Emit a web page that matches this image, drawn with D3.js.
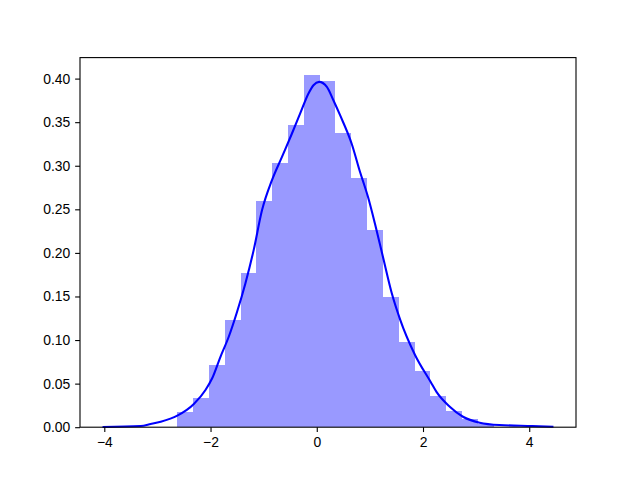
<!DOCTYPE html>
<html>
<head>
<meta charset="utf-8">
<script src="https://cdn.jsdelivr.net/npm/d3@7"></script>
<style>
  body { margin: 0; background: #fff; }
  svg { font-family: "DejaVu Sans", sans-serif; }
  .tick text { font-size: 13.9px; fill: #000; }
  .tick line { stroke: #000; stroke-width: 1.1px; }
  .domain { display: none; }
</style>
</head>
<body>
<svg width="640" height="480"></svg>
<script>
// histogram (density), equal-width bins
const histStart = -2.6262
const histWidth = 0.2978
const histDensity = [0.0171, 0.0331, 0.0713, 0.1229, 0.1765, 0.2594, 0.3026, 0.3466, 0.4039,
  0.397, 0.3377, 0.2861, 0.2261, 0.149, 0.0977, 0.0644, 0.0361, 0.0186, 0.0094, 0.0037]

// kde curve
const kdeX = [-4.033, -3.314, -3.126, -2.938, -2.626, -2.314, -2.095, -1.969, -1.813, -1.657, -1.5, -1.344,
  -1.188, -1.03, -0.843, -0.655, -0.467, -0.312, -0.156, -0.062, 0.045, 0.19, 0.313, 0.439, 0.659,
  0.815, 0.965, 1.097, 1.242, 1.411, 1.568, 1.85, 2.145, 2.254, 2.504, 2.753, 3.067, 3.44, 4.06, 4.456]
const kdeY = [0.0002, 0.0014, 0.0037, 0.0063, 0.0132, 0.0266, 0.0427, 0.0561, 0.0808, 0.1038, 0.1325, 0.165,
  0.2032, 0.2491, 0.2835, 0.3102, 0.337, 0.36, 0.3829, 0.3924, 0.3962, 0.3905, 0.3752, 0.358, 0.325,
  0.2928, 0.2641, 0.2332, 0.1964, 0.154, 0.1238, 0.0829, 0.0519, 0.0405, 0.0235, 0.012, 0.0052, 0.0025, 0.0014, 0.0006]

const xTicks = [-4, -2, 0, 2, 4]
const yTicks = [0, 0.05, 0.1, 0.15, 0.2, 0.25, 0.3, 0.35, 0.4]

const svg = d3.select('svg')
const margin = { left: 80, right: 64, top: 57.6, bottom: 52.8 }
const width = 640 - margin.left - margin.right
const height = 480 - margin.top - margin.bottom

const xMin = d3.min(kdeX), xMax = d3.max(kdeX)
const pad = (xMax - xMin) * 0.05
const x = d3.scaleLinear().domain([xMin - pad, xMax + pad]).range([0, width])
const y = d3.scaleLinear().domain([0, d3.max(histDensity) * 1.05]).range([height, 0])

const g = svg.append('g').attr('transform', `translate(${margin.left},${margin.top})`)

g.selectAll('rect.bar')
  .data(histDensity)
  .enter()
  .append('rect')
  .attr('class', 'bar')
  .attr('x', (d, i) => x(histStart + i * histWidth))
  .attr('width', (d, i) => x(histStart + (i + 1) * histWidth) - x(histStart + i * histWidth))
  .attr('y', d => y(d))
  .attr('height', d => height - y(d))
  .attr('fill', 'blue')
  .attr('fill-opacity', 0.4)
  .attr('shape-rendering', 'crispEdges')

const line = d3.line()
  .x(d => x(d[0]))
  .y(d => y(d[1]))
  .curve(d3.curveMonotoneX)

g.append('path')
  .datum(kdeX.map((v, i) => [v, kdeY[i]]))
  .attr('d', line)
  .attr('fill', 'none')
  .attr('stroke', 'blue')
  .attr('stroke-width', 2.08)

g.append('g')
  .attr('transform', `translate(0,${height})`)
  .call(d3.axisBottom(x).tickValues(xTicks).tickSize(4.86).tickPadding(4.86).tickFormat(d3.format('d')))

g.append('g')
  .call(d3.axisLeft(y).tickValues(yTicks).tickSize(4.86).tickPadding(4.86).tickFormat(d3.format('.2f')))

g.append('rect')
  .attr('width', width)
  .attr('height', height)
  .attr('fill', 'none')
  .attr('stroke', '#000')
  .attr('stroke-width', 1.1)
</script>
</body>
</html>
